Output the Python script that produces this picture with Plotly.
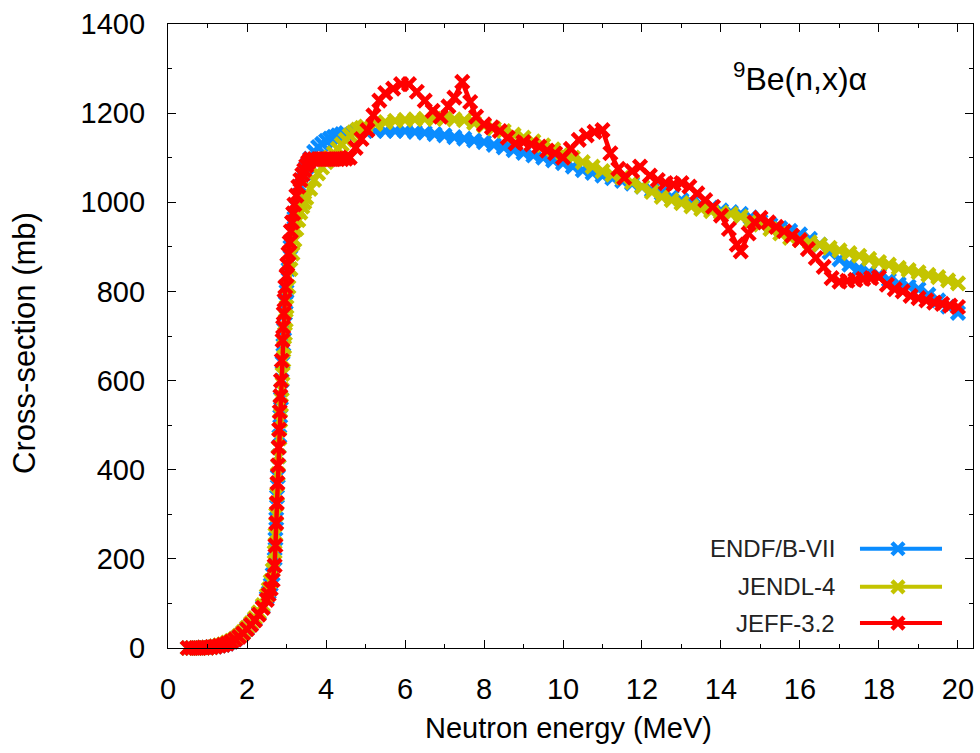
import plotly.graph_objects as go

# ---------------- data ----------------
endf_E = [0.5, 0.6, 0.7, 0.8, 0.9, 1.0, 1.1, 1.2, 1.3, 1.4, 1.5, 1.6, 1.7, 1.8, 1.9, 2.0,
          2.1, 2.2, 2.3, 2.4, 2.5, 2.55, 2.6, 2.65, 2.7, 2.72, 2.74, 2.76, 2.78, 2.8, 2.82,
          2.84, 2.86, 2.88, 2.9, 2.92, 2.94, 2.96, 2.98, 3.0, 3.05, 3.1, 3.15, 3.2, 3.25, 3.3,
          3.35, 3.4, 3.45, 3.5, 3.55, 3.6, 3.7, 3.8, 3.9, 4.0, 4.1, 4.2, 4.3, 4.4, 4.5,
          4.75, 5.0, 5.25, 5.5, 5.75, 6.0, 6.25, 6.5, 6.75, 7.0, 7.25, 7.5,
          7.75, 8.0, 8.25, 8.5, 8.75, 9.0, 9.25, 9.5, 9.75, 10.0, 10.25, 10.5, 10.75, 11.0,
          11.25, 11.5, 11.75, 12.0, 12.25, 12.5, 12.75, 13.0, 13.25, 13.5, 13.75, 14.0, 14.25,
          14.5, 14.75, 15.0, 15.25, 15.5, 15.75, 16.0, 16.25, 16.5, 16.75, 17.0, 17.25, 17.5,
          17.75, 18.0, 18.25, 18.5, 18.75, 19.0, 19.25, 19.5, 19.75, 20.0]
endf_xs = [0, 0, 0, 0, 1, 1, 2, 3, 5, 7, 10, 14, 19, 26, 34, 43,
           53, 64, 77, 92, 113, 125, 142, 165, 200, 245, 290, 340, 385, 430, 475,
           520, 560, 600, 640, 680, 715, 750, 775, 800, 850, 900, 935, 965, 990, 1015,
           1035, 1050, 1065, 1078, 1088, 1098, 1113, 1124, 1131, 1138, 1143, 1147, 1150, 1153, 1155,
           1158, 1160, 1160, 1160, 1160, 1160, 1158, 1156, 1153, 1150, 1146, 1143,
           1139, 1135, 1129, 1123, 1117, 1111, 1105, 1100, 1094, 1088, 1080, 1072, 1066, 1060,
           1054, 1048, 1042, 1035, 1027, 1020, 1012, 1005, 1000, 995, 988, 982, 978,
           974, 966, 957, 950, 942, 936, 928, 918, 905, 888, 872, 860, 851,
           843, 836, 826, 817, 811, 805, 793, 780, 766, 752]

jendl_E = [0.5, 0.6, 0.7, 0.8, 0.9, 1.0, 1.1, 1.2, 1.3, 1.4, 1.5, 1.6, 1.7, 1.8, 1.9, 2.0,
           2.1, 2.2, 2.3, 2.4, 2.5, 2.55, 2.6, 2.65, 2.7, 2.72, 2.74, 2.76, 2.78, 2.8, 2.82,
           2.84, 2.86, 2.88, 2.9, 2.92, 2.94, 2.96, 2.98, 3.0, 3.05, 3.1, 3.15, 3.2, 3.25, 3.3,
           3.35, 3.4, 3.45, 3.5, 3.6, 3.7, 3.8, 3.9, 4.0, 4.1, 4.2, 4.3, 4.4, 4.5, 4.6, 4.7,
           4.8, 4.9, 5.0, 5.25, 5.5, 5.75, 6.0, 6.25, 6.5, 6.75, 7.0, 7.25, 7.5,
           7.75, 8.0, 8.25, 8.5, 8.75, 9.0, 9.25, 9.5, 9.75, 10.0, 10.25, 10.5, 10.75, 11.0,
           11.25, 11.5, 11.75, 12.0, 12.25, 12.5, 12.75, 13.0, 13.25, 13.5, 13.75, 14.0, 14.25,
           14.5, 14.75, 15.0, 15.25, 15.5, 15.75, 16.0, 16.25, 16.5, 16.75, 17.0, 17.25, 17.5,
           17.75, 18.0, 18.25, 18.5, 18.75, 19.0, 19.25, 19.5, 19.75, 20.0]
jendl_xs = [0, 0, 0, 0, 1, 1, 2, 4, 6, 8, 12, 16, 21, 28, 36, 46,
            56, 67, 80, 96, 118, 132, 150, 175, 215, 255, 300, 345, 390, 430, 470,
            510, 545, 580, 615, 645, 675, 705, 735, 765, 810, 850, 885, 915, 940, 960,
            977, 990, 1000, 1010, 1030, 1050, 1065, 1078, 1090, 1100, 1110, 1120, 1130, 1140, 1150, 1157,
            1163, 1167, 1170, 1176, 1180, 1183, 1185, 1186, 1187, 1187, 1187, 1186, 1184,
            1178, 1172, 1166, 1160, 1152, 1145, 1137, 1128, 1119, 1110, 1100, 1090, 1080, 1070,
            1062, 1055, 1045, 1035, 1023, 1012, 1005, 998, 991, 985, 980, 977, 974,
            968, 958, 950, 940, 930, 920, 915, 910, 905, 898, 892, 886, 880,
            873, 866, 860, 853, 848, 843, 837, 832, 825, 818]

jeff_E = [0.5, 0.6, 0.7, 0.8, 0.9, 1.0, 1.1, 1.2, 1.3, 1.4, 1.5, 1.6, 1.7, 1.8, 1.9, 2.0,
          2.1, 2.2, 2.3, 2.4, 2.5, 2.55, 2.6, 2.65, 2.7, 2.72, 2.74, 2.755, 2.77, 2.785, 2.8,
          2.815, 2.83, 2.845, 2.86, 2.88, 2.9, 2.915, 2.93, 2.95, 2.97, 3.0, 3.02, 3.05, 3.08,
          3.11, 3.14, 3.17, 3.2, 3.25, 3.3, 3.35, 3.4, 3.45, 3.5, 3.55, 3.6, 3.7, 3.8, 3.9,
          4.0, 4.1, 4.2, 4.3, 4.4, 4.5, 4.6, 4.75, 4.9, 5.05, 5.2, 5.35, 5.5, 5.7, 5.9, 6.1,
          6.3, 6.5, 6.7, 6.9, 7.1, 7.25, 7.45, 7.65, 7.8, 8.0, 8.2, 8.4, 8.6, 8.8, 9.0, 9.2,
          9.4, 9.6, 9.8, 10.0, 10.2, 10.4, 10.6, 10.8, 11.0, 11.2, 11.4, 11.55, 11.75, 11.95,
          12.2, 12.4, 12.6, 12.8, 13.0, 13.2, 13.4, 13.6, 13.8, 14.0, 14.2, 14.4, 14.5, 14.7,
          14.85, 15.0, 15.2, 15.4, 15.6, 15.8, 16.0, 16.2, 16.4, 16.6, 16.8, 17.0, 17.2, 17.4,
          17.6, 17.8, 18.0, 18.2, 18.4, 18.6, 18.8, 19.0, 19.2, 19.4, 19.6, 19.8, 20.0]
jeff_xs = [0, 0, 0, 0, 1, 1, 2, 3, 5, 7, 10, 14, 19, 25, 33, 42,
           52, 62, 75, 90, 108, 120, 133, 152, 185, 230, 280, 325, 370, 410, 450,
           490, 530, 565, 600, 645, 690, 720, 750, 780, 810, 835, 860, 885, 910,
           935, 955, 975, 995, 1015, 1035, 1050, 1062, 1072, 1082, 1090, 1097, 1097, 1097, 1097,
           1097, 1097, 1097, 1097, 1097, 1098, 1100, 1122, 1142, 1162, 1195, 1228, 1245, 1255, 1265, 1265,
           1248, 1228, 1205, 1192, 1215, 1235, 1270, 1225, 1192, 1175, 1168, 1160, 1145, 1132, 1135, 1130,
           1125, 1116, 1110, 1100, 1120, 1140, 1150, 1158, 1162, 1110, 1075, 1055, 1070, 1080,
           1060, 1050, 1043, 1040, 1043, 1035, 1020, 1005, 990, 970, 940, 905, 890, 930,
           955, 965, 955, 945, 935, 925, 915, 895, 875, 855, 830, 822, 824, 826,
           828, 830, 832, 815, 805, 800, 790, 785, 780, 775, 772, 768, 765]

series_names = ["ENDF/B-VII", "JENDL-4", "JEFF-3.2"]
series_colors = ["#0A8CFF", "#C4C400", "#FF0000"]
x_tick_values = [0, 2, 4, 6, 8, 10, 12, 14, 16, 18, 20]
y_tick_values = [0, 200, 400, 600, 800, 1000, 1200, 1400]

FONT = "Liberation Sans, Arial, sans-serif"

fig = go.Figure()
datasets = [(endf_E, endf_xs), (jendl_E, jendl_xs), (jeff_E, jeff_xs)]
for (E, xs), name, col in zip(datasets, series_names, series_colors):
    fig.add_trace(go.Scatter(
        x=E, y=xs, name=name, mode="lines+markers",
        line=dict(color=col, width=4.5),
        marker=dict(symbol="x-thin-open", size=13, color=col, line=dict(color=col, width=4.5)),
        cliponaxis=False, showlegend=False))

# ----- gnuplot-style key (text left, sample right) on an overlay axis -----
key_y = [0.159, 0.098, 0.040]
for name, col, ky in zip(series_names, series_colors, key_y):
    fig.add_trace(go.Scatter(x=[0.8596, 0.9615], y=[ky, ky], mode="lines",
                             line=dict(color=col, width=4), xaxis="x2", yaxis="y2",
                             showlegend=False, hoverinfo="skip"))
    fig.add_trace(go.Scatter(x=[0.9068], y=[ky], mode="markers",
                             marker=dict(symbol="x-thin-open", size=12, color=col,
                                         line=dict(color=col, width=4.5)),
                             xaxis="x2", yaxis="y2", showlegend=False, hoverinfo="skip"))
    fig.add_annotation(x=0.831, y=ky, xref="paper", yref="paper", text=name,
                       showarrow=False, xanchor="right", yanchor="middle",
                       font=dict(family=FONT, size=24, color="#222222"))

fig.add_annotation(x=0.699, y=0.915, xref="paper", yref="paper",
                   text="<sup>9</sup>Be(n,x)\u03b1", showarrow=False,
                   xanchor="left", yanchor="middle",
                   font=dict(family=FONT, size=32, color="#000000"))

# axis titles
fig.add_annotation(x=0.498, y=-0.128, xref="paper", yref="paper",
                   text="Neutron energy (MeV)", showarrow=False,
                   xanchor="center", yanchor="middle",
                   font=dict(family=FONT, size=29, color="#000000"))
fig.add_annotation(x=-0.1776, y=0.489, xref="paper", yref="paper",
                   text="Cross-section (mb)", showarrow=False, textangle=-90,
                   xanchor="center", yanchor="middle",
                   font=dict(family=FONT, size=31, color="#000000"))

axis_common = dict(
    ticks="inside", ticklen=8, tickwidth=1, tickcolor="#000000",
    showline=True, linecolor="#000000", linewidth=1.2, mirror="ticks",
    showgrid=False, zeroline=False,
    tickfont=dict(family=FONT, size=29, color="#000000"),
)

fig.update_layout(
    width=980, height=753,
    margin=dict(l=168, r=7, t=24, b=105),
    plot_bgcolor="white", paper_bgcolor="white",
    showlegend=False,
    font=dict(family=FONT, color="#000000"),
    xaxis=dict(range=[0, 20.38], tickvals=x_tick_values,
               minor=dict(ticks="inside", ticklen=4, dtick=1, tick0=0, tickcolor="#000000"),
               ticklabelstandoff=15,
               **axis_common),
    yaxis=dict(range=[0, 1400], tickvals=y_tick_values,
               minor=dict(ticks="inside", ticklen=4, dtick=100, tick0=0, tickcolor="#000000"),
               ticklabelstandoff=16,
               **axis_common),
    xaxis2=dict(overlaying="x", range=[0, 1], visible=False, fixedrange=True),
    yaxis2=dict(overlaying="y", range=[0, 1], visible=False, fixedrange=True),
)

fig.write_html("out.html")
